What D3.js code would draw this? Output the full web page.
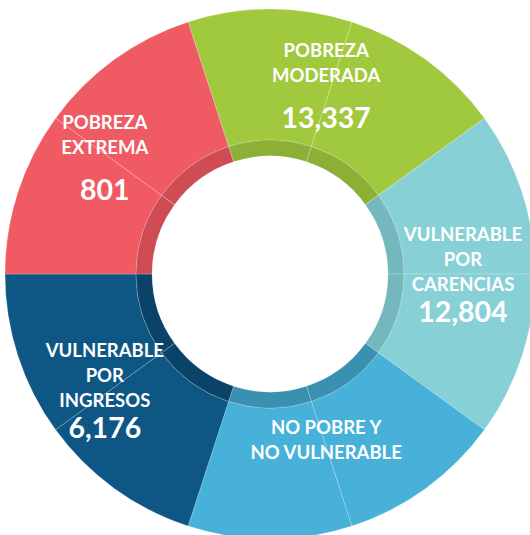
<!DOCTYPE html>
<html>
<head>
  <title>Pobreza</title>
  <script src="https://cdn.jsdelivr.net/npm/d3@7"></script>
  <style>
    body { margin: 0; background: #fff; }
    text { font-family: Lato, "Open Sans", sans-serif; font-weight: bold; fill: #fff; }
  </style>
</head>
<body>
  <svg width="530" height="535" id="mainsvg"></svg>
  <script>
    // data (clockwise from the top)
    const categories = ['POBREZA MODERADA', 'VULNERABLE POR CARENCIAS', 'NO POBRE Y NO VULNERABLE', 'VULNERABLE POR INGRESOS', 'POBREZA EXTREMA'];
    const labelLines = [['POBREZA', 'MODERADA'], ['VULNERABLE', 'POR', 'CARENCIAS'], ['NO POBRE Y', 'NO VULNERABLE'], ['VULNERABLE', 'POR', 'INGRESOS'], ['POBREZA', 'EXTREMA']];
    const values = [13337, 12804, null, 6176, 801];
    const outerColors = ['#a1c93d', '#87d1d6', '#47b1da', '#0e5684', '#ef5a63'];
    const ringColors = ['#8bb035', '#74b8be', '#3a90b0', '#0b4368', '#cf4c55'];

    const svg = d3.select('svg');
    const cx = 270, cy = 274;
    const rInner = 118, rRing = 134, rOuter = 265;

    const rows = categories.map((c, i) => ({name: c, lines: labelLines[i], value: values[i]}));

    // equal segments (infographic layout), green starts at -18deg
    const pie = d3.pie().value(() => 1).sort(null)
      .startAngle(-Math.PI / 10).endAngle(2 * Math.PI - Math.PI / 10);
    const arcData = pie(rows);

    // each segment is drawn as two halves (faint divider in the middle)
    const halves = [];
    arcData.forEach((d, i) => {
      const mid = (d.startAngle + d.endAngle) / 2;
      halves.push({i: i, startAngle: d.startAngle, endAngle: mid});
      halves.push({i: i, startAngle: mid, endAngle: d.endAngle});
    });

    const g = svg.append('g').attr('transform', `translate(${cx},${cy})`);
    const outerArc = d3.arc().innerRadius(rRing).outerRadius(rOuter);
    const ringArc = d3.arc().innerRadius(rInner).outerRadius(rRing);

    g.selectAll('.outer').data(halves).join('path')
      .attr('class', 'outer')
      .attr('d', outerArc)
      .attr('fill', d => outerColors[d.i])
      .attr('stroke', 'rgba(255,255,255,0.3)')
      .attr('stroke-width', 0.7);

    g.selectAll('.ring').data(halves).join('path')
      .attr('class', 'ring')
      .attr('d', ringArc)
      .attr('fill', d => ringColors[d.i])
      .attr('stroke', 'rgba(255,255,255,0.3)')
      .attr('stroke-width', 0.7);

    // labels
    const labelArc = d3.arc().innerRadius(198).outerRadius(198);
    const lineH = 25, cap = 14;
    const fmt = d3.format(',');
    const labels = g.append('g').attr('transform', 'translate(-5,0)');

    arcData.forEach(d => {
      const [x, y] = labelArc.centroid(d);
      const lines = d.data.lines;
      const gap = lines.length === 2 ? 46 : 31;
      const h = cap + lineH * (lines.length - 1) + gap;
      const top = y - h / 2 + cap;
      const t = labels.append('g');
      lines.forEach((l, k) => {
        t.append('text')
          .attr('x', x)
          .attr('y', top + k * lineH)
          .attr('text-anchor', 'middle')
          .attr('font-size', 18.5)
          .text(l);
      });
      if (d.data.value != null) {
        t.append('text')
          .attr('x', x)
          .attr('y', top + (lines.length - 1) * lineH + gap)
          .attr('text-anchor', 'middle')
          .attr('font-size', 28.5)
          .text(fmt(d.data.value));
      }
    });
  </script>
</body>
</html>
